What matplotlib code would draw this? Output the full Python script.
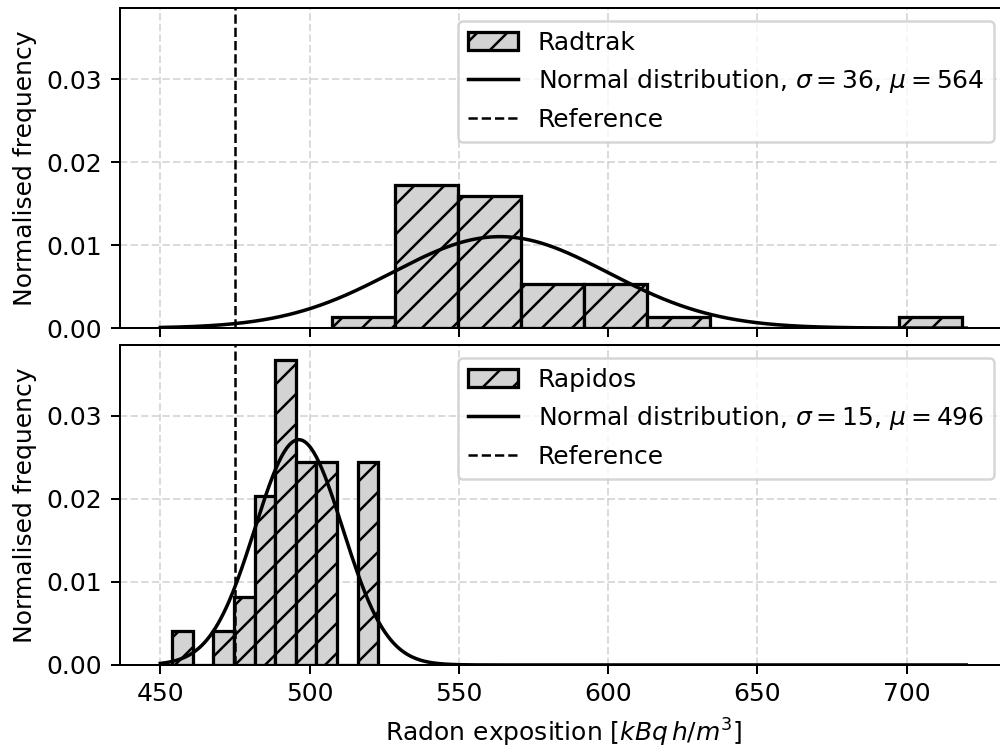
import matplotlib
matplotlib.use("Agg")
import matplotlib.pyplot as plt
import numpy as np

# Radtrak histogram (normalised), bin edges and densities
radtrak_edges = [507.4, 528.5, 549.6, 570.7, 591.8, 612.9, 634.0, 655.1, 676.2, 697.3, 718.4]
radtrak_heights = [0.00133, 0.01723, 0.01594, 0.0053, 0.0053, 0.00133, 0.0, 0.0, 0.0, 0.00133]
radtrak_mu, radtrak_sigma = 563.8, 36.2

# Rapidos histogram
rapidos_edges = [454.0, 460.9, 467.8, 474.7, 481.6, 488.5, 495.4, 502.3, 509.2, 516.1, 523.0]
rapidos_heights = [0.0041, 0.0, 0.0041, 0.0082, 0.0204, 0.0367, 0.0245, 0.0245, 0.0, 0.0245]
rapidos_mu, rapidos_sigma = 496.4, 14.7

reference = 475
x_range = (450, 720)


def normal_pdf(x, mu, sigma):
    return np.exp(-0.5 * ((x - mu) / sigma) ** 2) / (sigma * np.sqrt(2 * np.pi))


def panel(ax, name, edges, heights, mu, sigma):
    edges = np.asarray(edges)
    bars = ax.bar(edges[:-1], heights, width=np.diff(edges), align="edge",
                  color="lightgrey", edgecolor="black", linewidth=1.3,
                  hatch="//", label=name)
    xs = np.linspace(*x_range, 600)
    line, = ax.plot(xs, normal_pdf(xs, mu, sigma), color="black", lw=1.4,
                    label=fr"Normal distribution, $\sigma = {sigma:.0f}$, $\mu = {mu:.0f}$")
    ref = ax.axvline(reference, color="black", ls="--", lw=1.0, label="Reference")
    ax.grid(True, ls="--", alpha=0.45)
    ax.set_axisbelow(True)
    ax.set_ylabel("Normalised frequency")
    ax.legend(handles=[bars.patches[0], line, ref],
              labels=[name, line.get_label(), "Reference"], loc="upper right")


fig, (ax1, ax2) = plt.subplots(2, 1, sharex=True, sharey=True,
                               figsize=(1000 / 180, 748 / 180), dpi=180)
# the original is cropped on the right, so the axes run past the canvas edge
fig.subplots_adjust(left=0.12, right=1.0066, top=0.989, bottom=0.111, hspace=0.053)

panel(ax1, "Radtrak", radtrak_edges, radtrak_heights, radtrak_mu, radtrak_sigma)
panel(ax2, "Rapidos", rapidos_edges, rapidos_heights, rapidos_mu, rapidos_sigma)
ax2.set_xlabel(r"Radon exposition [$kBq\,h/m^3$]")

fig.savefig("out.png", dpi=180)
